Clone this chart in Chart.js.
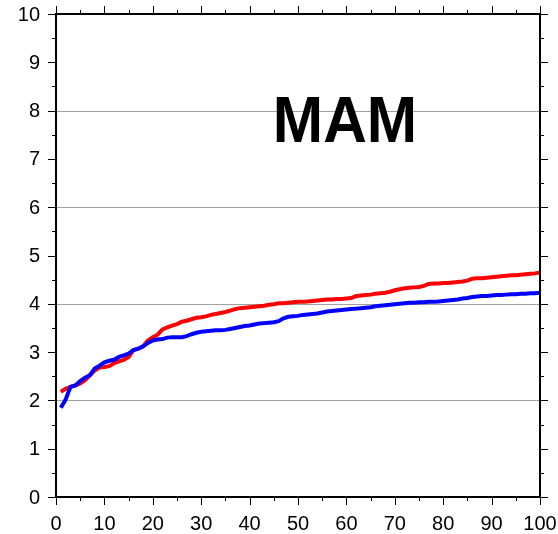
<!DOCTYPE html>
<html>
<head>
<meta charset="utf-8">
<script src="https://cdn.jsdelivr.net/npm/chart.js@4/dist/chart.umd.min.js"></script>
<style>
  html, body { margin: 0; padding: 0; background: #fff; }
  canvas { display: block; }
</style>
</head>
<body>
<canvas id="mamChart" width="558" height="534"></canvas>
<script>
// percentile rank on x, sorted values on y
const ranks = Array.from({ length: 100 }, (_, i) => i + 1);

const redValues = [
  2.18, 2.24, 2.28, 2.31, 2.35, 2.42, 2.52, 2.62, 2.68, 2.69,
  2.71, 2.77, 2.81, 2.84, 2.90, 3.04, 3.07, 3.12, 3.24, 3.31,
  3.36, 3.47, 3.51, 3.55, 3.58, 3.63, 3.65, 3.68, 3.71, 3.72,
  3.74, 3.77, 3.79, 3.81, 3.83, 3.86, 3.89, 3.91, 3.92, 3.93,
  3.94, 3.95, 3.96, 3.98, 3.99, 4.01, 4.01, 4.02, 4.03, 4.04,
  4.04, 4.05, 4.06, 4.07, 4.08, 4.09, 4.09, 4.10, 4.10, 4.11,
  4.12, 4.16, 4.17, 4.18, 4.19, 4.21, 4.22, 4.23, 4.25, 4.28,
  4.30, 4.32, 4.33, 4.34, 4.35, 4.37, 4.41, 4.42, 4.42, 4.43,
  4.43, 4.44, 4.45, 4.46, 4.48, 4.52, 4.53, 4.53, 4.54, 4.55,
  4.56, 4.57, 4.58, 4.59, 4.59, 4.60, 4.61, 4.62, 4.63, 4.65
];

const blueValues = [
  1.85, 2.02, 2.28, 2.31, 2.40, 2.47, 2.52, 2.66, 2.72, 2.79,
  2.82, 2.84, 2.90, 2.93, 2.97, 3.04, 3.07, 3.12, 3.19, 3.24,
  3.26, 3.27, 3.30, 3.31, 3.31, 3.31, 3.33, 3.37, 3.40, 3.42,
  3.43, 3.44, 3.45, 3.45, 3.46, 3.48, 3.50, 3.52, 3.54, 3.55,
  3.57, 3.59, 3.60, 3.61, 3.62, 3.64, 3.70, 3.73, 3.74, 3.75,
  3.77, 3.78, 3.79, 3.80, 3.82, 3.84, 3.85, 3.86, 3.87, 3.88,
  3.89, 3.90, 3.91, 3.92, 3.93, 3.95, 3.96, 3.97, 3.98, 3.99,
  4.00, 4.01, 4.02, 4.02, 4.03, 4.03, 4.04, 4.04, 4.05, 4.06,
  4.07, 4.08, 4.09, 4.11, 4.12, 4.14, 4.15, 4.16, 4.16, 4.17,
  4.18, 4.18, 4.19, 4.20, 4.20, 4.21, 4.21, 4.22, 4.22, 4.23
];

const xTickLabels = [0, 10, 20, 30, 40, 50, 60, 70, 80, 90, 100];
const yTickLabels = [0, 1, 2, 3, 4, 5, 6, 7, 8, 9, 10];
const gridLevels = [2, 4, 6, 8];
const seasonLabel = "MAM";

const FONT = '"Liberation Sans", Helvetica, Arial, sans-serif';

// frame, outward ticks, labels and gridlines drawn by hand
const framePlugin = {
  id: 'frame',
  beforeDatasetsDraw(chart) {
    const { ctx, chartArea: a, scales: { x, y } } = chart;
    ctx.save();
    ctx.strokeStyle = '#a0a0a0';
    ctx.lineWidth = 1;
    gridLevels.forEach(v => {
      const py = Math.round(y.getPixelForValue(v)) + 0.5;
      ctx.beginPath();
      ctx.moveTo(a.left - 8, py);
      ctx.lineTo(a.right + 8, py);
      ctx.stroke();
    });
    ctx.restore();
  },
  afterDatasetsDraw(chart) {
    const { ctx, chartArea: a, scales: { x, y } } = chart;
    ctx.save();

    // big season title
    ctx.fillStyle = '#000';
    ctx.font = 'bold 65px ' + FONT;
    ctx.textAlign = 'center';
    ctx.textBaseline = 'alphabetic';
    ctx.save();
    ctx.translate(345, 142);
    ctx.scale(0.93, 1);
    ctx.fillText(seasonLabel, 0, 0);
    ctx.restore();

    ctx.strokeStyle = '#000';
    ctx.lineWidth = 1;
    // y ticks: major every 1, minor every 0.5, both sides
    for (let v = 0; v <= 10; v += 0.5) {
      const len = Number.isInteger(v) ? 8 : 4;
      const py = Math.round(y.getPixelForValue(v)) + 0.5;
      ctx.beginPath();
      ctx.moveTo(a.left - len, py); ctx.lineTo(a.left, py);
      ctx.moveTo(a.right, py); ctx.lineTo(a.right + len, py);
      ctx.stroke();
    }
    // x ticks: major every 10, minor every 5, top and bottom
    for (let v = 0; v <= 100; v += 5) {
      const len = v % 10 === 0 ? 8 : 4;
      const px = Math.round(x.getPixelForValue(v)) + 0.5;
      ctx.beginPath();
      ctx.moveTo(px, a.bottom); ctx.lineTo(px, a.bottom + len);
      ctx.moveTo(px, a.top - len); ctx.lineTo(px, a.top);
      ctx.stroke();
    }

    // frame
    ctx.lineWidth = 2;
    ctx.strokeRect(a.left, a.top, a.right - a.left, a.bottom - a.top);

    // tick labels
    ctx.font = '20px ' + FONT;
    ctx.textAlign = 'right';
    ctx.textBaseline = 'middle';
    yTickLabels.forEach(v => {
      ctx.fillText(String(v), a.left - 16, y.getPixelForValue(v) + 1);
    });
    ctx.textAlign = 'center';
    ctx.textBaseline = 'alphabetic';
    xTickLabels.forEach(v => {
      ctx.fillText(String(v), x.getPixelForValue(v), a.bottom + 33);
    });
    ctx.restore();
  }
};

const toPoints = vals => ranks.map((r, i) => ({ x: r, y: vals[i] }));

new Chart(document.getElementById('mamChart'), {
  type: 'line',
  data: {
    datasets: [
      {
        label: 'blue',
        data: toPoints(blueValues),
        borderColor: '#0000ff',
        borderWidth: 4,
        pointRadius: 0,
        tension: 0,
        order: 0
      },
      {
        label: 'red',
        data: toPoints(redValues),
        borderColor: '#ff0000',
        borderWidth: 4,
        pointRadius: 0,
        tension: 0,
        order: 1
      }
    ]
  },
  options: {
    responsive: false,
    animation: false,
    devicePixelRatio: 1,
    layout: { padding: { left: 56, right: 18, top: 14, bottom: 37 } },
    plugins: { legend: { display: false }, tooltip: { enabled: false } },
    scales: {
      x: { type: 'linear', min: 0, max: 100, display: false },
      y: { type: 'linear', min: 0, max: 10, display: false }
    }
  },
  plugins: [framePlugin]
});
</script>
</body>
</html>
